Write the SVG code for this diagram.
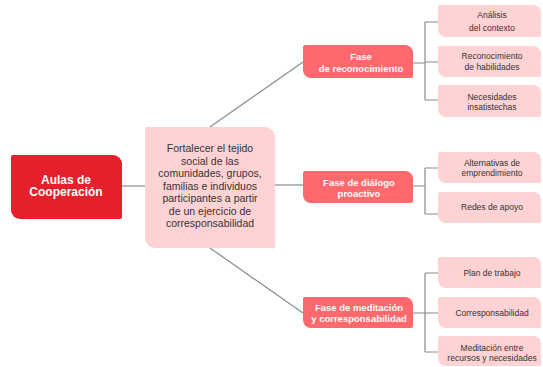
<svg xmlns="http://www.w3.org/2000/svg" width="543" height="367" viewBox="0 0 543 367">
<style>
.conn{fill:none;stroke:#8a8a8a;stroke-width:1.2}
.main{fill:#e3202c}
.center{fill:#ffd2d4}
.fase{fill:#ff686c}
.leaf{fill:#ffd2d4}
text{font-family:"Liberation Sans",Arial,sans-serif;text-anchor:middle}
.tmain{fill:#fff;font-weight:bold;font-size:12px}
.tcenter{fill:#333;font-size:10.5px}
.tfase{fill:#fff;font-weight:bold;font-size:9.5px}
.tleaf{fill:#333;font-size:8.5px}
</style>
<rect width="543" height="367" fill="#fff"/>
<g id="connectors">
<line class="conn" x1="122" y1="186" x2="145" y2="186"/>
<line class="conn" x1="210" y1="127" x2="303" y2="62"/>
<line class="conn" x1="275" y1="185" x2="303" y2="185"/>
<line class="conn" x1="210" y1="248" x2="303" y2="313"/>
<path class="conn" d="M413,63 H425 M425,22 V100 M425,22 H438 M425,62 H438 M425,100 H438"/>
<path class="conn" d="M413,186 H425 M425,168 V214 M425,168 H438 M425,214 H438"/>
<path class="conn" d="M413,313 H425 M425,273 V352 M425,273 H438 M425,313 H438 M425,352 H438"/>
</g>
<g id="aulas">
<path class="main" d="M13,155 H113 A9,9 0 0 1 122,164 V217 A2,2 0 0 1 120,219 H20 A9,9 0 0 1 11,210 V157 A2,2 0 0 1 13,155 Z"/>
<text class="tmain" x="66" y="183.5">Aulas de</text>
<text class="tmain" x="66" y="196">Cooperación</text>
</g>
<g id="fortalecer">
<path class="center" d="M147,127 H265 A10,10 0 0 1 275,137 V246 A2,2 0 0 1 273,248 H155 A10,10 0 0 1 145,238 V129 A2,2 0 0 1 147,127 Z"/>
<text class="tcenter" x="210" y="152">Fortalecer el tejido</text>
<text class="tcenter" x="210" y="164.5">social de las</text>
<text class="tcenter" x="210" y="177">comunidades, grupos,</text>
<text class="tcenter" x="210" y="189.5">familias e individuos</text>
<text class="tcenter" x="210" y="202">participantes a partir</text>
<text class="tcenter" x="210" y="214.5">de un ejercicio de</text>
<text class="tcenter" x="210" y="227">corresponsabilidad</text>
</g>
<g id="fase1">
<path class="fase" d="M305,45 H405 A8,8 0 0 1 413,53 V76 A2,2 0 0 1 411,78 H311 A8,8 0 0 1 303,70 V47 A2,2 0 0 1 305,45 Z"/>
<text class="tfase" x="361" y="60">Fase</text>
<text class="tfase" x="361" y="71.5">de reconocimiento</text>
</g>
<g id="fase2">
<path class="fase" d="M305,171 H405 A8,8 0 0 1 413,179 V201 A2,2 0 0 1 411,203 H311 A8,8 0 0 1 303,195 V173 A2,2 0 0 1 305,171 Z"/>
<text class="tfase" x="359" y="186">Fase de diálogo</text>
<text class="tfase" x="359" y="197">proactivo</text>
</g>
<g id="fase3">
<path class="fase" d="M305,297 H405 A8,8 0 0 1 413,305 V326 A2,2 0 0 1 411,328 H311 A8,8 0 0 1 303,320 V299 A2,2 0 0 1 305,297 Z"/>
<text class="tfase" x="359" y="311">Fase de meditación</text>
<text class="tfase" x="359" y="322">y corresponsabilidad</text>
</g>
<g id="analisis">
<path class="leaf" d="M440,5 H533 A8,8 0 0 1 541,13 V35 A2,2 0 0 1 539,37 H446 A8,8 0 0 1 438,29 V7 A2,2 0 0 1 440,5 Z"/>
<text class="tleaf" x="492" y="18">Análisis</text>
<text class="tleaf" x="492" y="31">del contexto</text>
</g>
<g id="reconocimiento">
<path class="leaf" d="M440,46 H533 A8,8 0 0 1 541,54 V75 A2,2 0 0 1 539,77 H446 A8,8 0 0 1 438,69 V48 A2,2 0 0 1 440,46 Z"/>
<text class="tleaf" x="492" y="59">Reconocimiento</text>
<text class="tleaf" x="492" y="70">de habilidades</text>
</g>
<g id="necesidades">
<path class="leaf" d="M440,85 H533 A8,8 0 0 1 541,93 V115 A2,2 0 0 1 539,117 H446 A8,8 0 0 1 438,109 V87 A2,2 0 0 1 440,85 Z"/>
<text class="tleaf" x="492" y="100">Necesidades</text>
<text class="tleaf" x="492" y="110">insatistechas</text>
</g>
<g id="alternativas">
<path class="leaf" d="M440,152 H533 A8,8 0 0 1 541,160 V181 A2,2 0 0 1 539,183 H446 A8,8 0 0 1 438,175 V154 A2,2 0 0 1 440,152 Z"/>
<text class="tleaf" x="492" y="166">Alternativas de</text>
<text class="tleaf" x="492" y="176">emprendimiento</text>
</g>
<g id="redes">
<path class="leaf" d="M440,192 H533 A8,8 0 0 1 541,200 V221 A2,2 0 0 1 539,223 H446 A8,8 0 0 1 438,215 V194 A2,2 0 0 1 440,192 Z"/>
<text class="tleaf" x="492" y="210">Redes de apoyo</text>
</g>
<g id="plan">
<path class="leaf" d="M440,257 H533 A8,8 0 0 1 541,265 V286 A2,2 0 0 1 539,288 H446 A8,8 0 0 1 438,280 V259 A2,2 0 0 1 440,257 Z"/>
<text class="tleaf" x="492" y="276">Plan de trabajo</text>
</g>
<g id="corresponsabilidad">
<path class="leaf" d="M440,297 H533 A8,8 0 0 1 541,305 V326 A2,2 0 0 1 539,328 H446 A8,8 0 0 1 438,320 V299 A2,2 0 0 1 440,297 Z"/>
<text class="tleaf" x="492" y="316">Corresponsabilidad</text>
</g>
<g id="meditacion">
<path class="leaf" d="M440,336 H533 A8,8 0 0 1 541,344 V364 A2,2 0 0 1 539,366 H446 A8,8 0 0 1 438,358 V338 A2,2 0 0 1 440,336 Z"/>
<text class="tleaf" x="492" y="351">Meditación entre</text>
<text class="tleaf" x="492" y="361">recursos y necesidades</text>
</g>
</svg>
